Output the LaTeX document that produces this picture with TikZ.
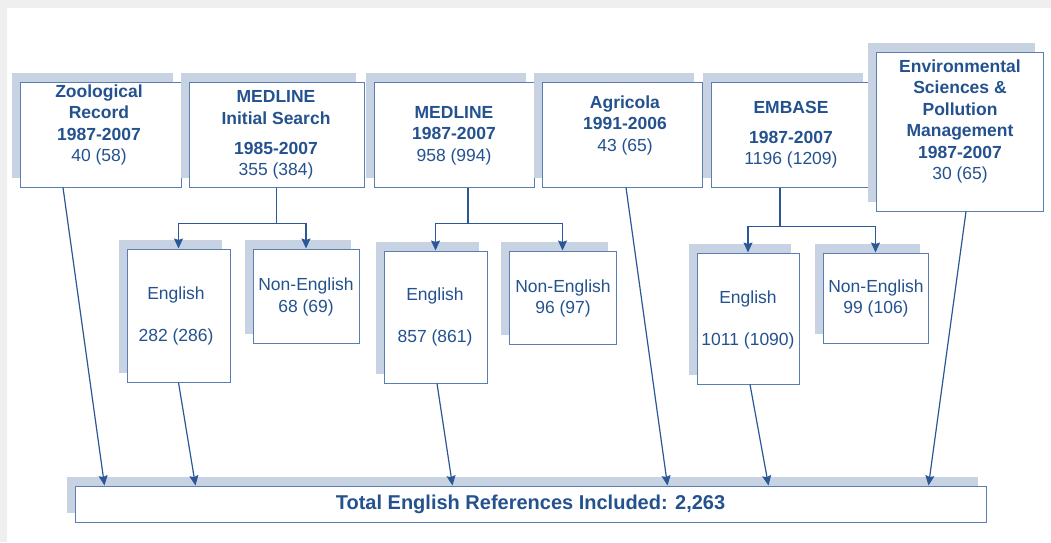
\documentclass[tikz,border=0pt]{standalone}
\usepackage{fontspec}
\setmainfont{Liberation Sans}
\usetikzlibrary{shadows,arrows.meta,calc}
\definecolor{txtc}{HTML}{24528F}
\definecolor{edgec}{HTML}{5A7DB3}
\definecolor{shadc}{HTML}{C7D3E3}
\definecolor{arrc}{HTML}{2B5797}
\definecolor{framec}{HTML}{EFEFEF}
\tikzset{
  box/.style={draw=edgec, line width=1pt, fill=white, inner sep=0pt,
    general shadow={shadow xshift=-8.5pt, shadow yshift=9pt, fill=shadc}},
  txt/.style={text=txtc, align=center, inner sep=0pt,
    font=\fontsize{17.5}{21.5}\selectfont},
  arr/.style={draw=arrc, line width=1.2pt,
    -{Stealth[length=10pt, width=9pt, inset=1.5pt]}},
}
\begin{document}
\begin{tikzpicture}[x=1pt,y=-1pt]
\useasboundingbox (0,0) rectangle (1051,542);
\fill[framec] (0,0) rectangle (1051,8);
\fill[framec] (0,0) rectangle (7,542);

% top row boxes
\node[box, minimum width=161pt, minimum height=105pt] (zoo) at (100.5,134.5) {};
\node[box, minimum width=175pt, minimum height=105pt] (medi) at (276.5,134.5) {};
\node[box, minimum width=160pt, minimum height=105pt] (med) at (454,134.5) {};
\node[box, minimum width=160pt, minimum height=105pt] (agr) at (622,134.5) {};
\node[box, minimum width=160pt, minimum height=105pt] (emb) at (791,134.5) {};
\node[box, minimum width=167pt, minimum height=159pt] (env) at (959.5,131.5) {};

\node[txt] (zoo-t) at (99,125) {\textbf{Zoological}\\\textbf{Record}\\\textbf{1987-2007}\\40 (58)};
\node[txt] (medi-t) at (276,135) {\textbf{MEDLINE}\\\textbf{Initial Search}\\[8.5pt]\textbf{1985-2007}\\355 (384)};
\node[txt] (med-t) at (454,135.5) {\textbf{MEDLINE}\\\textbf{1987-2007}\\958 (994)};
\node[txt] (agr-t) at (625,125) {\textbf{Agricola}\\\textbf{1991-2006}\\43 (65)};
\node[txt] (emb-t) at (791,134.5) {\textbf{EMBASE}\\[8.5pt]\textbf{1987-2007}\\1196 (1209)};
\node[txt] (env-t) at (960,121.5) {\textbf{Environmental}\\\textbf{Sciences \&}\\\textbf{Pollution}\\\textbf{Management}\\\textbf{1987-2007}\\30 (65)};

% second row boxes
\node[box, minimum width=103pt, minimum height=133pt] (en1) at (178.5,315.5) {};
\node[box, minimum width=106pt, minimum height=94pt] (ne1) at (306,296) {};
\node[box, minimum width=103pt, minimum height=132pt] (en2) at (435.5,317) {};
\node[box, minimum width=107pt, minimum height=93pt] (ne2) at (562.5,297.5) {};
\node[box, minimum width=102pt, minimum height=131pt] (en3) at (748,318.5) {};
\node[box, minimum width=105pt, minimum height=90pt] (ne3) at (875.5,298) {};

\node[txt] (en1-t) at (176,316) {English\\[20.5pt]282 (286)};
\node[txt] (ne1-t) at (306,297) {Non-English\\68 (69)};
\node[txt] (en2-t) at (435,317) {English\\[20.5pt]857 (861)};
\node[txt] (ne2-t) at (563,298.5) {Non-English\\96 (97)};
\node[txt] (en3-t) at (748,319.5) {English\\[20.5pt]1011 (1090)};
\node[txt] (ne3-t) at (876,298.5) {Non-English\\99 (106)};

% bottom box
\node[box, minimum width=911pt, minimum height=36pt, text=txtc,
  font=\fontsize{20}{24}\selectfont\bfseries] (tot) at (530.5,504)
  {Total English References Included: 2,263};

% forks
\draw[arr] (medi.south) -- ++(0,36) -| (en1.north);
\draw[arr] (medi.south) ++(0,36) -| (ne1.north);
\draw[arr] ([xshift=14pt]med.south) -- ++(0,36) -| (en2.north);
\draw[arr] ([xshift=14pt]med.south) ++(0,36) -| (ne2.north);
\draw[arr] ([xshift=-11pt]emb.south) -- ++(0,39) -| (en3.north);
\draw[arr] ([xshift=-11pt]emb.south) ++(0,39) -| (ne3.north);

% to total
\draw[arr] ([xshift=-37.5pt]zoo.south) -- ([xshift=30pt]tot.north west);
\draw[arr] (en1.south) -- ([xshift=121pt]tot.north west);
\draw[arr] ([xshift=1.5pt]en2.south) -- ([xshift=378pt]tot.north west);
\draw[arr] ([xshift=4pt]agr.south) -- ([xshift=593pt]tot.north west);
\draw[arr] ([xshift=2pt]en3.south) -- ([xshift=694pt]tot.north west);
\draw[arr] ([xshift=6.5pt]env.south) -- ([xshift=854pt]tot.north west);
\end{tikzpicture}
\end{document}
